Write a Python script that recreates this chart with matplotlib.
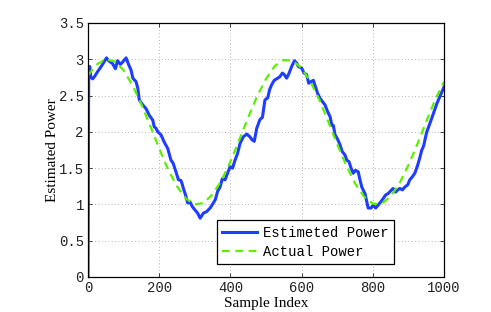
import matplotlib
matplotlib.use("Agg")
import matplotlib.pyplot as plt

# Estimated power (blue, noisy)
est_n = [0, 2, 5, 8, 13, 18, 27, 37, 46, 52, 58, 69, 77, 83, 91, 97, 107, 113, 121, 126,
         135, 140, 144, 154, 163, 172, 182, 186, 191, 196, 205, 214, 224, 233, 239, 247,
         254, 261, 264, 268, 274, 280, 287, 293, 301, 308, 315, 324, 333, 343, 352, 358,
         364, 371, 377, 385, 392, 399, 406, 413, 420, 427, 436, 446, 455, 461, 467, 474,
         483, 490, 497, 505, 510, 516, 523, 533, 539, 546, 551, 558, 565, 572, 580, 586,
         591, 600, 607, 614, 620, 626, 633, 639, 645, 652, 658, 666, 673, 680, 685, 689,
         694, 702, 708, 714, 722, 727, 733, 739, 745, 751, 759, 764, 769, 773, 778, 783,
         787, 795, 801, 808, 815, 823, 829, 836, 843, 851, 857, 864, 870, 876, 883, 890,
         898, 904, 911, 918, 926, 933, 937, 943, 951, 957, 965, 972, 980, 986, 994, 1000]
est_p = [0.00, 2.88, 2.90, 2.75, 2.73, 2.76, 2.83, 2.90, 2.97, 3.02, 2.98, 2.94, 2.87, 2.98,
         2.93, 2.96, 3.02, 2.94, 2.85, 2.74, 2.69, 2.60, 2.44, 2.37, 2.32, 2.23, 2.16, 2.07,
         2.05, 2.00, 1.96, 1.86, 1.77, 1.61, 1.57, 1.45, 1.34, 1.33, 1.29, 1.22, 1.13, 1.02,
         1.03, 0.97, 0.92, 0.88, 0.81, 0.88, 0.90, 0.95, 1.02, 1.07, 1.18, 1.24, 1.35, 1.34,
         1.43, 1.52, 1.50, 1.61, 1.70, 1.84, 1.93, 1.97, 1.93, 1.89, 1.87, 2.05, 2.17, 2.20,
         2.44, 2.47, 2.58, 2.65, 2.71, 2.74, 2.76, 2.81, 2.79, 2.74, 2.81, 2.90, 2.98, 2.95,
         2.90, 2.88, 2.81, 2.79, 2.67, 2.69, 2.71, 2.62, 2.53, 2.46, 2.42, 2.37, 2.28, 2.21,
         2.09, 2.09, 1.96, 1.89, 1.82, 1.73, 1.68, 1.61, 1.59, 1.50, 1.43, 1.47, 1.45, 1.34,
         1.24, 1.20, 1.15, 1.04, 0.95, 0.95, 0.99, 0.95, 0.99, 1.04, 1.08, 1.13, 1.15, 1.19,
         1.22, 1.17, 1.20, 1.22, 1.20, 1.24, 1.27, 1.34, 1.38, 1.43, 1.54, 1.66, 1.74, 1.81,
         1.99, 2.07, 2.18, 2.28, 2.39, 2.46, 2.55, 2.62]

# Actual power (green, dashed)
act_n = [0, 25, 50, 75, 100, 125, 150, 175, 200, 225, 250, 275, 300, 325, 350, 375, 400,
         425, 450, 475, 500, 525, 550, 575, 600, 625, 650, 675, 700, 725, 750, 775, 800,
         825, 850, 875, 900, 925, 950, 975, 1000]
act_p = [2.78, 2.93, 3.00, 2.97, 2.85, 2.64, 2.38, 2.08, 1.77, 1.48, 1.25, 1.08, 1.00, 1.02,
         1.14, 1.33, 1.59, 1.89, 2.20, 2.49, 2.73, 2.91, 2.99, 2.98, 2.88, 2.69, 2.44, 2.14,
         1.83, 1.54, 1.29, 1.11, 1.01, 1.01, 1.11, 1.29, 1.54, 1.83, 2.14, 2.44, 2.69]

xticks = [0, 200, 400, 600, 800, 1000]
yticks = [0, 0.5, 1, 1.5, 2, 2.5, 3, 3.5]
ytick_labels = ["0", "0.5", "1", "1.5", "2", "2.5", "3", "3.5"]

fig = plt.figure(figsize=(4.91, 3.12), dpi=100)
ax = fig.add_axes([88/491, 35/312, 356/491, 254/312])

ax.plot(est_n, est_p, color="#1f3dff", lw=2.2, label="Estimeted Power", solid_joinstyle="round")
ax.plot(act_n, act_p, color="#5cf000", lw=1.6, ls=(0, (3.5, 2.5)), label="Actual Power")

ax.set_xlim(0, 1000)
ax.set_ylim(0, 3.5)
ax.set_xticks(xticks)
ax.set_yticks(yticks)
ax.set_xticklabels([str(t) for t in xticks], family="Liberation Mono", fontsize=10, color="#333333")
ax.set_yticklabels(ytick_labels, family="Liberation Mono", fontsize=10, color="#333333")
ax.tick_params(direction="in", top=True, right=True, length=3, width=0.6, colors="#222222", pad=3)
ax.grid(True, ls=(0, (1, 3)), color="#999999", lw=0.6)
for s in ax.spines.values():
    s.set_linewidth(0.9)
    s.set_color("black")

ax.set_xlabel("Sample Index", family="Liberation Serif", fontsize=11, labelpad=1)
ax.set_ylabel("Estimated Power", family="Liberation Serif", fontsize=11, labelpad=0)

leg = ax.legend(loc="upper left", bbox_to_anchor=(0.362, 0.224), borderaxespad=0,
                prop={"family": "Liberation Mono", "size": 10}, fancybox=False,
                edgecolor="black", framealpha=1, handlelength=2.5, borderpad=0.4,
                labelspacing=0.35, handletextpad=0.4)
leg.get_frame().set_linewidth(0.9)

fig.savefig("out.png", dpi=100)
